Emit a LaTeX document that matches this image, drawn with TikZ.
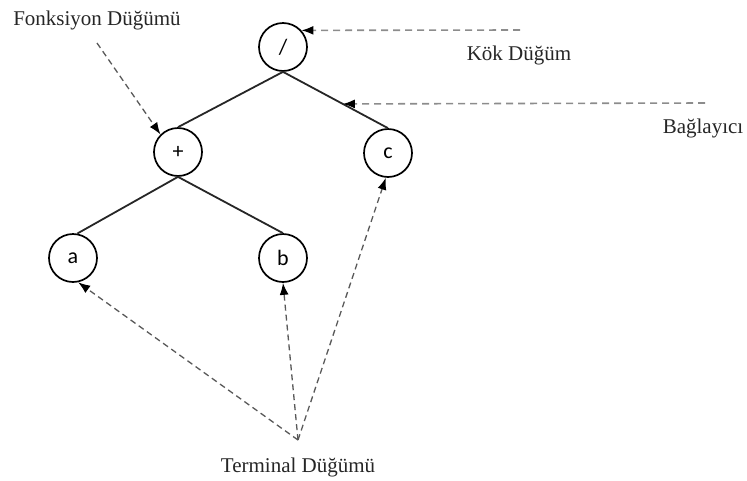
\documentclass[tikz,border=0pt]{standalone}
\usepackage{fontspec}
\setmainfont{Liberation Serif}
\newfontfamily\nodefont{Carlito}
\usetikzlibrary{arrows.meta}
\begin{document}
\begin{tikzpicture}[x=1pt,y=-1pt,
  tnode/.style={circle,draw=black,line width=1.7pt,minimum size=48pt,inner sep=0pt,font=\nodefont\fontsize{22}{24}\selectfont},
  edge/.style={line width=1.8pt,black!85},
  ann/.style={dashed,dash pattern=on 6pt off 4pt,line width=1.3pt,black!65,-{Latex[length=12pt,width=9pt,fill=black,color=black]}},
  annlight/.style={ann,black!45,dash pattern=on 7pt off 5pt,line width=1.6pt},
  lbl/.style={font=\fontsize{21}{24}\selectfont,text=black!85,inner sep=0pt}]
\useasboundingbox (0,0) rectangle (747,480);
% tree nodes
\node[tnode] (root) at (283,47) {/};
\node[tnode] (plus) at (178,152) {+};
\node[tnode] (c) at (388,153) {c};
\node[tnode] (a) at (73,258) {a};
\node[tnode] (b) at (283,258) {b};
% edges
\draw[edge] (root.south) -- (c.north) coordinate[pos=0.57] (bagpt);
\draw[edge] (root.south) -- (plus.north);
\draw[edge] (plus.south) -- (a.80);
\draw[edge] (plus.south) -- (b.north);
% labels
\node[lbl] (fonk) at (97,20) {Fonksiyon Düğümü};
\node[lbl] (kok) at (519,55) {Kök Düğüm};
\node[lbl] (bag) at (703,128) {Bağlayıcı};
\node[lbl] (term) at (298,467) {Terminal Düğümü};
% annotation connectors
\coordinate (fonkstart) at (97,43);
\coordinate (kokstart) at (520,30);
\coordinate (bagstart) at (705,103);
\coordinate (termpt) at (298,440);
\draw[ann] (fonkstart) -- (plus.135);
\draw[annlight] (kokstart) -- (root.42);
\draw[annlight] (bagstart) -- (bagpt);
\draw[ann] (termpt) -- (a.-78);
\draw[ann] (termpt) -- (b.south);
\draw[ann] (termpt) -- (c.-95);
\end{tikzpicture}
\end{document}
